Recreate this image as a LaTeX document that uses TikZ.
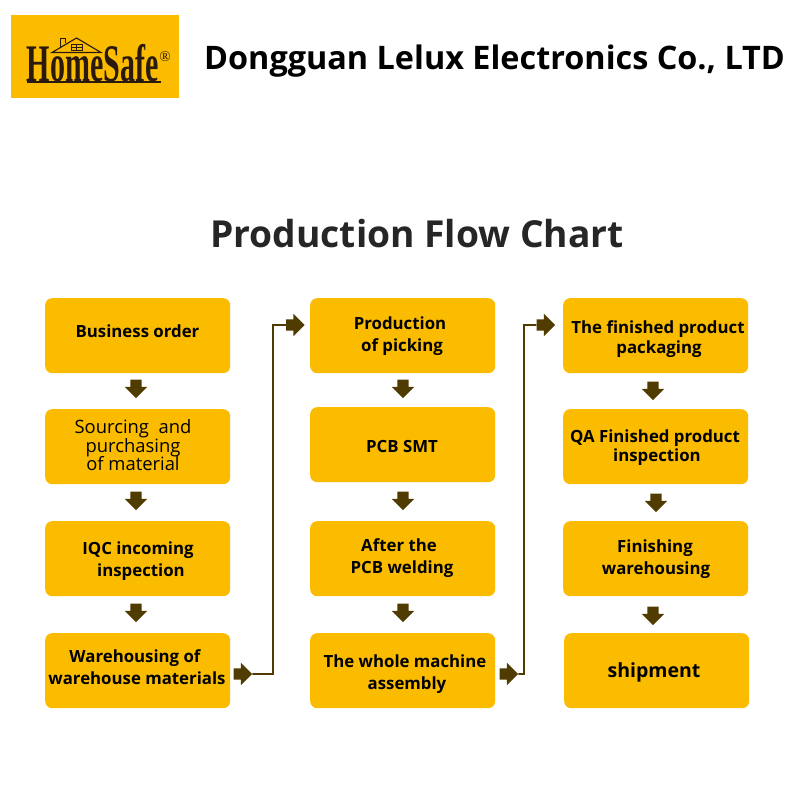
\documentclass[tikz,border=0pt]{standalone}
\usepackage{fontspec}
\setmainfont{Open Sans}
\newfontfamily\logofont{Liberation Serif}
\usetikzlibrary{shapes.arrows}
\definecolor{boxgold}{HTML}{FBBC00}
\definecolor{arrowbrown}{HTML}{503C00}
\definecolor{logoink}{HTML}{2A1A0E}
\definecolor{titlegrey}{HTML}{262626}
\tikzset{
  flowbox/.style={fill=boxgold,draw=none,rounded corners=7pt,minimum width=185pt,minimum height=75pt,inner sep=0pt,anchor=north west},
  flowtext/.style={font=\fontsize{16.8}{19}\selectfont\bfseries,text=black,align=center,inner sep=0pt,text height=12pt,text depth=3.5pt,yshift=-1.7pt},
  flowthin/.style={font=\fontsize{18.4}{18.5}\selectfont,text=black,align=center,inner sep=0pt},
  blockarrow/.style={single arrow,fill=arrowbrown,draw=none,inner sep=0pt,text height=11pt,text depth=0pt,text width=1pt,minimum height=18.5pt,single arrow head extend=5.5pt,single arrow tip angle=90},
  downarrow/.style={blockarrow,rotate=-90},
  elbow/.style={draw=arrowbrown,line width=1.6pt},
}
\begin{document}
\begin{tikzpicture}[x=1pt,y=-1pt]
\path[use as bounding box,fill=white] (0,0) rectangle (800,800);
% logo
\fill[boxgold] (11,15) rectangle (179,98);
\node[inner sep=0pt,text=logoink,anchor=base west] (logotext) at (26.5,81.5) {\logofont\bfseries\fontsize{40}{40}\selectfont\scalebox{0.75}[1.32]{HomeSafe}};
\fill[logoink] (27,81) rectangle (161,82.5);
\draw[logoink,line width=1.1pt] (52,52.5) -- (76.5,38) -- (101,52.5) -- cycle;
\draw[logoink,line width=1pt] (60.5,47) -- (60.5,39) -- (65.5,39) -- (65.5,43);
\draw[logoink,line width=.8pt] (71.5,44) rectangle (82,50.5) (76.7,44) -- (76.7,50.5) (71.5,47) -- (82,47);
\node[inner sep=0pt,text=logoink,font=\logofont\fontsize{15}{15}\selectfont] (logoreg) at (165,57) {®};
% headings
\node[inner sep=0pt,font=\fontsize{32.4}{34}\selectfont\bfseries,anchor=base west,text=black] (company) at (204,69.7) {Dongguan Lelux Electronics Co., LTD};
\node[inner sep=0pt,font=\fontsize{37.2}{42}\selectfont\bfseries,anchor=base,text=titlegrey] (title) at (417,247) {Production Flow Chart};
% boxes
\node[flowbox] (a1) at (45,298) {};
\node[flowbox] (a2) at (45,409) {};
\node[flowbox] (a3) at (45,521) {};
\node[flowbox] (a4) at (45,633) {};
\node[flowbox] (b1) at (310,298) {};
\node[flowbox] (b2) at (310,407) {};
\node[flowbox] (b3) at (310,521) {};
\node[flowbox] (b4) at (310,633) {};
\node[flowbox] (c1) at (563,298) {};
\node[flowbox] (c2) at (563,409) {};
\node[flowbox] (c3) at (563,521) {};
\node[flowbox] (c4) at (564,633) {};
% box texts
\node[flowtext] (ta1) at (137.5,332) {Business order};
\node[flowthin] (ta2) at (133,445.5) {Sourcing\ \ and\\purchasing\\of material};
\node[flowtext] (ta3a) at (138,549) {IQC incoming};
\node[flowtext] (ta3b) at (141,571) {inspection};
\node[flowtext] (ta4a) at (135,657) {Warehousing of};
\node[flowtext] (ta4b) at (137,679) {warehouse materials};
\node[flowtext] (tb1a) at (400,324) {Production};
\node[flowtext] (tb1b) at (402,346) {of picking};
\node[flowtext] (tb2) at (402,447) {PCB SMT};
\node[flowtext] (tb3a) at (399,546) {After the};
\node[flowtext] (tb3b) at (402,568) {PCB welding};
\node[flowtext] (tb4a) at (405,662) {The whole machine};
\node[flowtext] (tb4b) at (407,684) {assembly};
\node[flowtext] (tc1a) at (658,328) {The finished product};
\node[flowtext] (tc1b) at (659,347.5) {packaging};
\node[flowtext] (tc2a) at (655,437) {QA Finished product};
\node[flowtext] (tc2b) at (657,456) {inspection};
\node[flowtext] (tc3a) at (655,547) {Finishing};
\node[flowtext] (tc3b) at (656,569) {warehousing};
\node[flowtext,font=\fontsize{19.5}{21}\selectfont\bfseries] (tc4) at (654,671.5) {shipment};
% down arrows
\node[downarrow] (da1) at (136,386) {};
\node[downarrow] (da2) at (136,498) {};
\node[downarrow] (da3) at (136,610) {};
\node[downarrow] (db1) at (403,386) {};
\node[downarrow] (db2) at (403,498) {};
\node[downarrow] (db3) at (403,610) {};
\node[downarrow] (dc1) at (653,388) {};
\node[downarrow] (dc2) at (656,500) {};
\node[downarrow] (dc3) at (653,613) {};
% side arrows and elbows
\node[blockarrow] (sa1) at (240,674) {};
\node[blockarrow] (sa2) at (292.5,325) {};
\node[blockarrow] (sb1) at (506,674) {};
\node[blockarrow] (sb2) at (543,325) {};
\draw[elbow] (sa1.east) -- (273,674) -- (273,325) -- (sa2.west);
\draw[elbow] (sb1.east) -- (524,674) -- (524,325) -- (sb2.west);
\end{tikzpicture}
\end{document}
